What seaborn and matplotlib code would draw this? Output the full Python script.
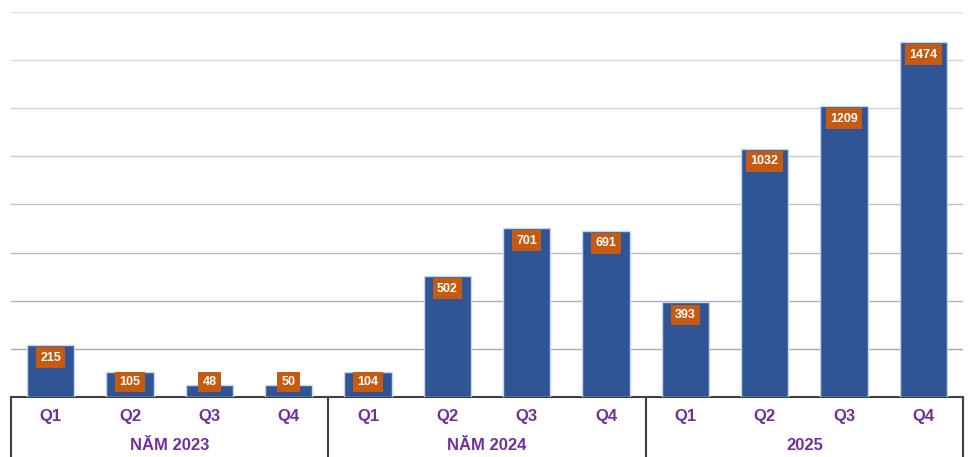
import numpy as np
import pandas as pd
import matplotlib
matplotlib.use("Agg")
import matplotlib.pyplot as plt
import seaborn as sns

quarters = ["Q1", "Q2", "Q3", "Q4"] * 3
years = ["NĂM 2023", "NĂM 2024", "2025"]
values = [215, 105, 48, 50, 104, 502, 701, 691, 393, 1032, 1209, 1474]

df = pd.DataFrame({"pos": np.arange(len(values)), "val": values})

sns.set_theme(style="white")
plt.rcParams["font.family"] = ["Liberation Sans", "DejaVu Sans"]

fig = plt.figure(figsize=(9.78, 4.57), dpi=100)
ax = fig.add_axes([11 / 978, 60 / 457, 952 / 978, 385 / 457])

sns.barplot(data=df, x="pos", y="val", color="#2F5597", saturation=1,
            width=0.6, edgecolor="#C9D5EA", linewidth=1, ax=ax, zorder=3)

ax.set_ylim(0, 1600)
ax.set_xlim(-0.5, 11.5)

# gridlines get a bit darker towards the bottom
grid_vals = np.arange(200, 1601, 200)
for i, g in enumerate(grid_vals):
    shade = 0.66 + 0.22 * i / (len(grid_vals) - 1)
    ax.axhline(g, color=(shade, shade, shade), linewidth=1, zorder=1)

for s in ["top", "right", "left"]:
    ax.spines[s].set_visible(False)
ax.spines["bottom"].set_color("#404040")
ax.spines["bottom"].set_linewidth(1.5)

ax.set_yticks([])
ax.set_xticks(range(12))
ax.set_xticklabels(quarters, color="#7030A0", fontsize=12, fontweight="bold")
ax.tick_params(axis="x", length=0, pad=9)
ax.set_xlabel("")
ax.set_ylabel("")

# data labels in orange boxes
for i, v in enumerate(values):
    y = max(v - 52, 62)
    ax.text(i, y, str(v), ha="center", va="center", color="white",
            fontsize=9, fontweight="bold", zorder=5,
            bbox=dict(boxstyle="square,pad=0.35", fc="#C55A11", ec="none"))

# group separators and year labels
trans = ax.get_xaxis_transform()
for xb in [-0.5, 3.5, 7.5, 11.5]:
    ax.plot([xb, xb], [0, -0.2], color="#404040", linewidth=1.5,
            transform=trans, clip_on=False)
for k, yr in enumerate(years):
    ax.text(4 * k + 1.5, -0.125, yr, transform=trans, ha="center", va="center",
            color="#7030A0", fontsize=12, fontweight="bold")

fig.savefig("out.png", dpi=100)
